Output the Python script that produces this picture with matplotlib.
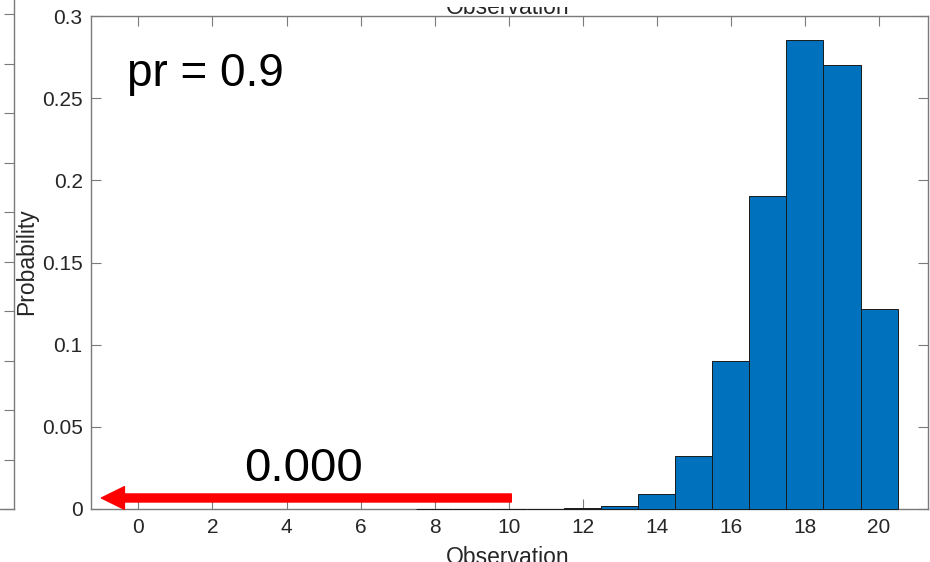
import matplotlib
matplotlib.use("Agg")
import matplotlib.pyplot as plt
from matplotlib.patches import FancyArrowPatch
from matplotlib.transforms import Bbox

plt.rcParams['font.family'] = ['Liberation Sans', 'DejaVu Sans']

# Data
observations = [8, 9, 10, 11, 12, 13, 14, 15, 16, 17, 18, 19, 20]
probabilities = [0.0000, 0.0000, 0.0000, 0.0001, 0.0004, 0.0020, 0.0090,
                 0.0320, 0.0898, 0.1902, 0.2852, 0.2702, 0.1216]
xticks = [0, 2, 4, 6, 8, 10, 12, 14, 16, 18, 20]
yticks = [0, 0.05, 0.1, 0.15, 0.2, 0.25, 0.3]
ytick_labels = ['0', '0.05', '0.1', '0.15', '0.2', '0.25', '0.3']
pr_label = 'pr = 0.9'
tail_label = '0.000'
arrow_from = 10.07
arrow_to = -1.0
arrow_y = 0.0067

W, H = 930, 562
fig = plt.figure(figsize=(W / 100, H / 100), dpi=100)

def px_rect(x0, y0, x1, y1):
    # pixel box (top-left origin) -> figure fraction rect
    return [x0 / W, 1 - y1 / H, (x1 - x0) / W, (y1 - y0) / H]

axis_color = '#7a7a7a'
text_color = '#262626'
tick_fs = 15
label_fs = 16.5

# Partial neighbouring axes on the left (only its right edge is visible)
axl = fig.add_axes(px_rect(-300, -40, 14.3, 509))
axl.set_xlim(0, 1)
axl.set_ylim(0, (509 + 40) / 49.5)
axl.set_yticks(range(0, 12))
axl.yaxis.tick_right()
axl.tick_params(axis='y', direction='in', length=7, color=axis_color,
                labelright=False, labelleft=False)
axl.set_xticks([])
for s in ['left', 'top']:
    axl.spines[s].set_visible(False)
for s in ['right', 'bottom']:
    axl.spines[s].set_color(axis_color)
    axl.spines[s].set_linewidth(1.0)
axl.patch.set_alpha(0)

# Main axes
ax = fig.add_axes(px_rect(91, 16, 928.3, 509))
ax.bar(observations, probabilities, width=1.0, color='#0072BD',
       edgecolor='#1a1a1a', linewidth=0.7, zorder=3, clip_on=False)
ax.set_xlim(-1.28, 21.33)
ax.set_ylim(0, 0.3)
ax.set_xticks(xticks)
ax.set_yticks(yticks)
ax.set_yticklabels(ytick_labels)
ax.tick_params(direction='in', length=7, color=axis_color, labelcolor=text_color,
               labelsize=tick_fs, top=True, right=True)
ax.tick_params(axis='x', pad=6.5)
ax.tick_params(axis='y', pad=6)
for s in ax.spines.values():
    s.set_color(axis_color)
    s.set_linewidth(1.0)

# Red arrow
arrow = FancyArrowPatch((arrow_from, arrow_y), (arrow_to, arrow_y),
                        arrowstyle='simple,head_length=16.6,head_width=16.3,tail_width=5.8',
                        mutation_scale=1, color='#ff0000', shrinkA=0, shrinkB=0,
                        zorder=5, clip_on=False)
ax.add_patch(arrow)

# Large texts
ax.text(127 / W, 1 - 86 / H, pr_label, transform=fig.transFigure, fontsize=33,
        color='black', ha='left', va='baseline')
ax.text(303.5 / W, 1 - 481 / H, tail_label, transform=fig.transFigure, fontsize=34,
        color='black', ha='center', va='baseline')

# Axis labels (placed as in the cropped screenshot)
fig.text(27 / W, 1 - 261.5 / H, 'Probability', rotation=90, fontsize=label_fs,
         color=text_color, ha='center', va='center')
fig.text(507.5 / W, 1 - 564 / H, 'Observation', fontsize=label_fs, color=text_color,
         ha='center', va='baseline')
top_lbl = fig.text(507.5 / W, 1 - 14.5 / H, 'Observation', fontsize=label_fs,
                   color=text_color, ha='center', va='baseline', zorder=0)
top_lbl.set_clip_box(Bbox.from_extents(0, 0, W, H - 6.5))
top_lbl.set_clip_on(True)

fig.savefig('out.png', dpi=100)
